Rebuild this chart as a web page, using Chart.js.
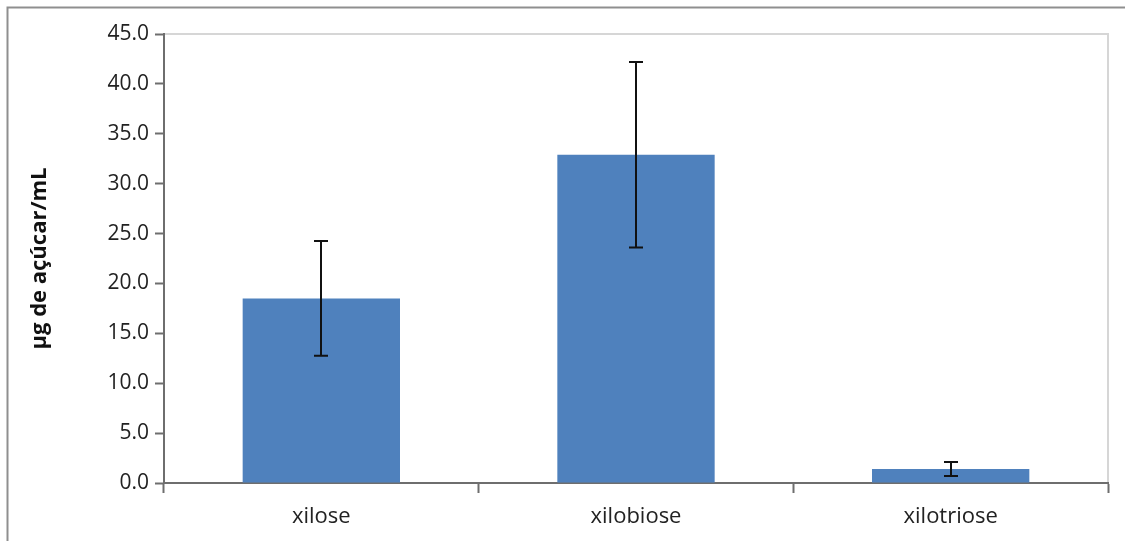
<!DOCTYPE html>
<html>
<head>
<meta charset="utf-8">
<script src="https://cdn.jsdelivr.net/npm/chart.js@4.4.1/dist/chart.umd.min.js"></script>
<style>
  html, body { margin: 0; padding: 0; background: #ffffff; }
  #wrap { position: relative; width: 1125px; height: 541px; }
  canvas { display: block; }
</style>
</head>
<body>
<div id="wrap"><canvas id="chart" width="1125" height="541"></canvas></div>
<script>
// Sugar concentration per product, with error (±)
const categories = ['xilose', 'xilobiose', 'xilotriose'];
const meanValues = [18.5, 32.9, 1.4];
const errorValues = [5.75, 9.3, 0.7];
const yTicks = [0, 5, 10, 15, 20, 25, 30, 35, 40, 45];
const yTitle = 'µg de açúcar/mL';

const FONT = '"Open Sans", "Noto Sans", sans-serif';

// Outer frame (top and left edges) and light plot-area border
const framePlugin = {
  id: 'frame',
  beforeDraw(chart) {
    const ctx = chart.ctx;
    const a = chart.chartArea;
    ctx.save();
    ctx.strokeStyle = '#8f8f8f';
    ctx.lineWidth = 2;
    ctx.beginPath();
    ctx.moveTo(1125, 7.5);
    ctx.lineTo(7.5, 7.5);
    ctx.lineTo(7.5, 541);
    ctx.stroke();
    ctx.strokeStyle = '#d6d6d6';
    ctx.lineWidth = 2;
    ctx.beginPath();
    ctx.moveTo(a.left, a.top);
    ctx.lineTo(a.right, a.top);
    ctx.lineTo(a.right, a.bottom);
    ctx.stroke();
    ctx.restore();
  }
};

// Vertical error bars with caps, drawn through the chart's scales
const errorBarPlugin = {
  id: 'errorBars',
  afterDatasetsDraw(chart) {
    const ctx = chart.ctx;
    const y = chart.scales.y;
    const meta = chart.getDatasetMeta(0);
    ctx.save();
    ctx.strokeStyle = '#111111';
    ctx.lineWidth = 2;
    meta.data.forEach((bar, i) => {
      const x = Math.round(bar.x);
      const top = y.getPixelForValue(meanValues[i] + errorValues[i]);
      const bottom = y.getPixelForValue(meanValues[i] - errorValues[i]);
      ctx.beginPath();
      ctx.moveTo(x, top);
      ctx.lineTo(x, bottom);
      ctx.moveTo(x - 7, top);
      ctx.lineTo(x + 7, top);
      ctx.moveTo(x - 7, bottom);
      ctx.lineTo(x + 7, bottom);
      ctx.stroke();
    });
    ctx.restore();
  }
};

new Chart(document.getElementById('chart'), {
  type: 'bar',
  data: {
    labels: categories,
    datasets: [{
      data: meanValues,
      backgroundColor: '#4f81bd',
      borderWidth: 0,
      categoryPercentage: 1.0,
      barPercentage: 0.5
    }]
  },
  options: {
    responsive: false,
    animation: false,
    devicePixelRatio: 1,
    layout: { padding: { left: 27, right: 17, top: 34, bottom: 0 } },
    plugins: {
      legend: { display: false },
      tooltip: { enabled: false }
    },
    scales: {
      x: {
        offset: true,
        grid: {
          offset: true,
          drawOnChartArea: false,
          drawTicks: true,
          tickLength: 10,
          tickWidth: 2,
          tickColor: '#6e6e6e'
        },
        border: { display: true, color: '#6e6e6e', width: 2 },
        ticks: {
          color: '#222222',
          padding: 11,
          font: { family: FONT, size: 22 }
        },
        afterFit(scale) { scale.height = 58; }
      },
      y: {
        min: 0,
        max: 45,
        afterBuildTicks(scale) {
          scale.ticks = yTicks.map(v => ({ value: v }));
        },
        grid: {
          drawOnChartArea: false,
          drawTicks: true,
          tickLength: 9,
          tickWidth: 2,
          tickColor: '#6e6e6e'
        },
        border: { display: true, color: '#6e6e6e', width: 2 },
        ticks: {
          color: '#222222',
          padding: 6,
          font: { family: FONT, size: 21 },
          callback: v => Number(v).toFixed(1)
        },
        title: {
          display: true,
          text: yTitle,
          color: '#111111',
          padding: { top: 0, bottom: 0 },
          font: { family: FONT, size: 22, weight: 'bold' }
        },
        afterFit(scale) { scale.width = 137; }
      }
    }
  },
  plugins: [framePlugin, errorBarPlugin]
});
</script>
</body>
</html>
